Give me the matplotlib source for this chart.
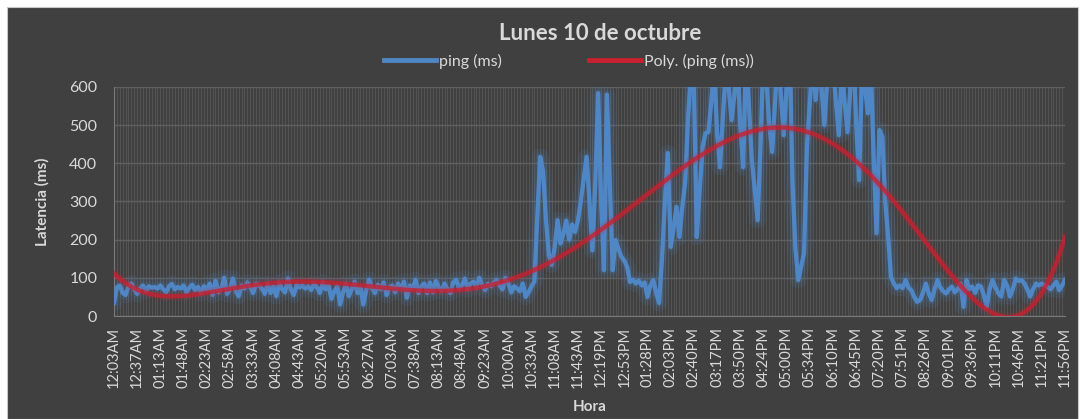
import numpy as np
import matplotlib.pyplot as plt
from matplotlib.patches import Rectangle

plt.rcParams['font.family'] = ['Lato', 'DejaVu Sans']

# latencia medida cada ~4.4 min durante el dia
ping = [
    35, 75, 80, 60, 55, 78, 85, 70, 58, 72,
    80, 65, 78, 74, 76, 72, 80, 70, 62, 78,
    84, 70, 76, 72, 80, 62, 74, 82, 68, 76,
    60, 78, 68, 85, 55, 92, 62, 72, 100, 58,
    70, 98, 65, 52, 80, 72, 88, 75, 60, 85,
    80, 72, 58, 85, 60, 78, 52, 88, 70, 62,
    98, 70, 55, 82, 75, 80, 72, 78, 68, 85,
    75, 60, 88, 70, 80, 45, 65, 78, 30, 62,
    85, 52, 70, 90, 60, 75, 30, 68, 95, 72,
    60, 82, 70, 88, 55, 75, 80, 62, 85, 70,
    90, 48, 80, 72, 95, 60, 78, 85, 60, 88,
    62, 92, 75, 65, 85, 70, 60, 88, 95, 72,
    80, 98, 70, 85, 90, 75, 100, 82, 68, 85,
    78, 88, 95, 80, 70, 100, 85, 62, 78, 72,
    65, 85, 50, 62, 78, 90, 260, 417, 380, 250,
    160, 134, 180, 251, 190, 215, 250, 200, 240, 220,
    250, 300, 360, 417, 300, 172, 350, 584, 300, 120,
    580, 350, 120, 199, 175, 155, 145, 128, 89, 95,
    85, 93, 80, 88, 50, 80, 94, 60, 34, 150,
    300, 427, 181, 230, 286, 207, 286, 350, 520, 640,
    610, 207, 330, 443, 479, 482, 560, 660, 480, 390,
    520, 650, 600, 513, 580, 680, 500, 390, 700, 550,
    409, 330, 251, 450, 690, 620, 500, 430, 560, 700,
    580, 474, 600, 720, 356, 180, 94, 130, 165, 443,
    560, 680, 566, 650, 600, 500, 620, 720, 660, 560,
    474, 650, 560, 482, 600, 700, 500, 356, 650, 600,
    531, 660, 420, 217, 487, 470, 300, 207, 102, 85,
    73, 80, 73, 94, 75, 67, 50, 37,
    42, 60, 85, 60, 42, 70, 94, 75, 65, 59, 70,
    77, 62, 70, 85, 24, 94, 70, 77, 60, 80, 77,
    55, 24, 70, 94, 75, 60, 51, 94, 80, 51, 70,
    98, 92, 94, 85, 70, 51, 70, 85, 80, 85, 80,
    77, 70, 80, 90, 68, 80, 94,
]

# una etiqueta cada 8 muestras
horas = [
    '12:03AM', '12:37AM', '01:13AM', '01:48AM', '02:23AM', '02:58AM',
    '03:33AM', '04:08AM', '04:43AM', '05:20AM', '05:53AM', '06:27AM',
    '07:03AM', '07:38AM', '08:13AM', '08:48AM', '09:23AM', '10:00AM',
    '10:33AM', '11:08AM', '11:43AM', '12:19PM', '12:53PM', '01:28PM',
    '02:03PM', '02:40PM', '03:17PM', '03:50PM', '04:24PM', '05:00PM',
    '05:34PM', '06:10PM', '06:45PM', '07:20PM', '07:51PM', '08:26PM',
    '09:01PM', '09:36PM', '10:11PM', '10:46PM', '11:21PM', '11:56PM',
]
paso = 8

x = np.arange(len(ping))
# linea de tendencia polinomica (orden 6, como en Excel)
poly = np.polynomial.Polynomial.fit(x, ping, 6)
tendencia = poly(x)

azul = '#4f86c6'
rojo = '#c8202f'
texto = '#d9d9d9'

fig = plt.figure(figsize=(10.85, 4.19), dpi=100, facecolor='white')
fondo = Rectangle((7 / 1085, 0), 1071 / 1085, 412 / 419,
                  transform=fig.transFigure, facecolor='#404040',
                  edgecolor='#c8c8c8', lw=0.8, zorder=-10)
fig.patches.append(fondo)

ax = fig.add_axes([114 / 1085, 1 - 316 / 419, 951 / 1085, 229 / 419])
ax.set_facecolor('#404040')

# brillo alrededor de las lineas
ax.plot(x, ping, color=azul, lw=12, alpha=0.12, solid_capstyle='round',
        solid_joinstyle='round', zorder=2)
ax.plot(x, ping, color=azul, lw=6.5, alpha=0.15, solid_capstyle='round',
        solid_joinstyle='round', zorder=2)
ax.plot(x, ping, color=azul, lw=3.1, solid_joinstyle='round',
        label='ping (ms)', zorder=3)
ax.plot(x, tendencia, color=rojo, lw=7, alpha=0.12, zorder=4)
ax.plot(x, tendencia, color=rojo, lw=3.2, alpha=0.8, label='Poly. (ping (ms))', zorder=5)

ax.set_xlim(0, len(ping) - 1)
ax.set_ylim(0, 600)
ax.set_yticks(range(0, 700, 100))
ax.set_xticks(x[::paso])
ax.set_xticklabels(horas, rotation=90)
ax.set_xticks(x, minor=True)

ax.grid(which='both', axis='x', color='#575757', lw=0.6, zorder=1)
ax.grid(which='major', axis='y', color='#5f5f5f', lw=1.0, zorder=1)
ax.set_axisbelow(True)

ax.tick_params(axis='both', which='both', length=0, colors=texto)
ax.tick_params(axis='y', labelsize=11.5, pad=12)
ax.tick_params(axis='x', labelsize=10.5, pad=8)
for s in ['top', 'right']:
    ax.spines[s].set_visible(False)
for s in ['left', 'bottom']:
    ax.spines[s].set_color('#7a7a7a')
    ax.spines[s].set_linewidth(0.8)

ax.set_ylabel('Latencia (ms)', color=texto, fontsize=11, fontweight='bold', labelpad=14)
ax.set_xlabel('Hora', color=texto, fontsize=11, fontweight='bold', labelpad=8)

fig.text(600 / 1085, 1 - 34 / 419, 'Lunes 10 de octubre', color=texto,
         fontsize=16, fontweight='bold', ha='center', va='center')

leg = fig.legend(loc='center', bbox_to_anchor=(569 / 1085, 1 - 61 / 419), ncol=2,
                 frameon=False, fontsize=11.5, handlelength=3.2, handletextpad=0.2,
                 columnspacing=5.5, labelcolor=texto)
for h in leg.get_lines():
    h.set_linewidth(3.5)
    h.set_alpha(1)

fig.savefig('out.png', dpi=100, facecolor=fig.get_facecolor())
